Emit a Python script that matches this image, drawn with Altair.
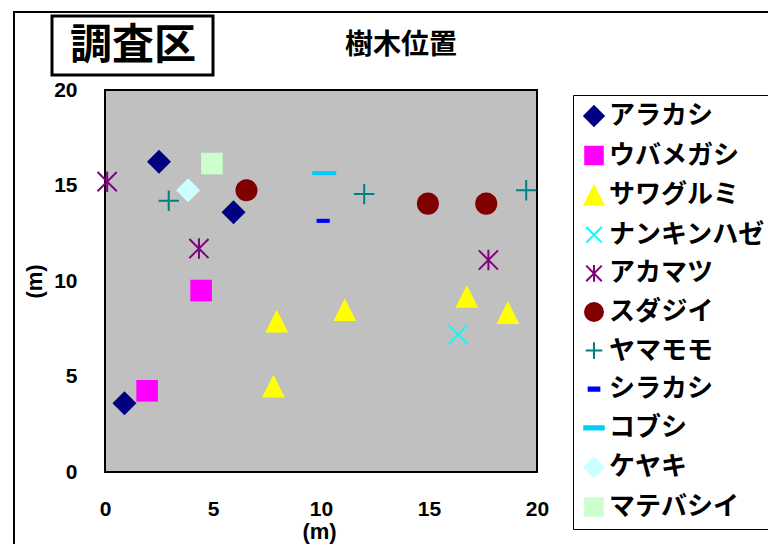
import altair as alt
import pandas as pd

# ---- data ----
species = ["アラカシ", "ウバメガシ", "サワグルミ", "ナンキンハゼ", "アカマツ", "スダジイ",
           "ヤマモモ", "シラカシ", "コブシ", "ケヤキ", "マテバシイ"]
colors = ["#000080", "#FF00FF", "#FFFF00", "#00FFFF", "#800080", "#800000",
          "#008080", "#0000FF", "#00CCFF", "#CCFFFF", "#CCFFCC"]

arakashi_x = [2.5, 5.95, 0.9]
arakashi_y = [16.25, 13.6, 3.6]
ubamegashi_x = [4.45, 1.95]
ubamegashi_y = [9.5, 4.25]
sawagurumi_x = [7.95, 7.8, 11.1, 16.75, 18.65]
sawagurumi_y = [7.9, 4.5, 8.5, 9.2, 8.35]
nankinhaze_x = [16.35]
nankinhaze_y = [7.2]
akamatsu_x = [0.1, 4.35, 17.75]
akamatsu_y = [15.2, 11.7, 11.1]
sudajii_x = [6.55, 14.95, 17.65]
sudajii_y = [14.75, 14.05, 14.05]
yamamomo_x = [2.95, 12.0, 19.5]
yamamomo_y = [14.2, 14.55, 14.75]
shirakashi_x = [10.1]
shirakashi_y = [13.15]
kobushi_x = [10.15]
kobushi_y = [15.65]
keyaki_x = [3.85]
keyaki_y = [14.75]
matebashii_x = [4.95]
matebashii_y = [16.15]

xs = [arakashi_x, ubamegashi_x, sawagurumi_x, nankinhaze_x, akamatsu_x, sudajii_x,
      yamamomo_x, shirakashi_x, kobushi_x, keyaki_x, matebashii_x]
ys = [arakashi_y, ubamegashi_y, sawagurumi_y, nankinhaze_y, akamatsu_y, sudajii_y,
      yamamomo_y, shirakashi_y, kobushi_y, keyaki_y, matebashii_y]

tick_values = [0, 5, 10, 15, 20]

# ---- styles ----
DIAMOND = "M0,-1L1,0L0,1L-1,0Z"
SQUARE = "M-0.9,-0.9L0.9,-0.9L0.9,0.9L-0.9,0.9Z"
TRIANGLE = "M0,-0.95L0.95,0.95L-0.95,0.95Z"
XMARK = "M-0.8,-0.8L0.8,0.8M0.8,-0.8L-0.8,0.8"
STAR = "M0,-0.85L0,0.85M-0.8,-0.8L0.8,0.8M0.8,-0.8L-0.8,0.8"
CIRCLE = "M0.92,0A0.92,0.92,0,1,1,-0.92,0A0.92,0.92,0,1,1,0.92,0Z"
PLUS = "M-0.85,0L0.85,0M0,-0.85L0,0.85"
SHORTDASH = "M-0.55,-0.17L0.55,-0.17L0.55,0.17L-0.55,0.17Z"
LONGDASH = "M-1,-0.17L1,-0.17L1,0.17L-1,0.17Z"
shapes = [DIAMOND, SQUARE, TRIANGLE, XMARK, STAR, CIRCLE, PLUS, SHORTDASH, LONGDASH, DIAMOND, SQUARE]
stroke_w = [0, 0, 0, 2, 2, 0, 2, 0, 0, 0, 0]

rows = []
for i, sp in enumerate(species):
    for xv, yv in zip(xs[i], ys[i]):
        rows.append({"species": sp, "x": xv, "y": yv, "sw": stroke_w[i]})
df = pd.DataFrame(rows)

FONT_CJK = "Noto Sans CJK JP"
FONT_NUM = "Liberation Sans, Noto Sans CJK JP"

legend = alt.Legend(
    title=None, orient="none", legendX=468, legendY=5,
    labelFont=FONT_CJK, labelFontSize=26, labelFontWeight="bold", labelColor="black",
    symbolSize=380, symbolStrokeWidth=2, rowPadding=12.6, padding=8,
    strokeColor="black", fillColor="white", labelOffset=2,
)

points = alt.Chart(df).mark_point(filled=True, opacity=1, size=576).encode(
    x=alt.X("x:Q", scale=alt.Scale(domain=[0, 20], nice=False),
            axis=alt.Axis(values=tick_values, title="(m)", labelPadding=26, labelFlush=False,
                          titleX=214, titleY=59, titleBaseline="middle")),
    y=alt.Y("y:Q", scale=alt.Scale(domain=[0, 20], nice=False),
            axis=alt.Axis(values=tick_values, title="(m)", labelPadding=28, labelFlush=False,
                          titleX=-71, titleY=191, titleAngle=270,
                          titleAlign="center", titleBaseline="middle")),
    fill=alt.Fill("species:N", scale=alt.Scale(domain=species, range=colors), legend=legend),
    stroke=alt.Stroke("species:N", scale=alt.Scale(domain=species, range=colors), legend=legend),
    shape=alt.Shape("species:N", scale=alt.Scale(domain=species, range=shapes), legend=legend),
    strokeWidth=alt.StrokeWidth("sw:Q", scale=None, legend=None),
)

one = alt.Data(values=[{"a": 1}])

frame = alt.Chart(one).mark_rect(fill="white", fillOpacity=0, stroke="black", strokeWidth=2).encode(
    x=alt.value(-91), x2=alt.value(700), y=alt.value(-78), y2=alt.value(480))

title_box = alt.Chart(one).mark_rect(fill="white", stroke="black", strokeWidth=3).encode(
    x=alt.value(-53), x2=alt.value(108), y=alt.value(-74), y2=alt.value(-15))

title_main = alt.Chart(one).mark_text(
    text="調査区", font=FONT_CJK, fontSize=42, fontWeight="bold", color="black",
    align="center", baseline="middle").encode(x=alt.value(28), y=alt.value(-44))

title_sub = alt.Chart(one).mark_text(
    text="樹木位置", font=FONT_CJK, fontSize=28, fontWeight="bold", color="black",
    align="center", baseline="middle").encode(x=alt.value(296), y=alt.value(-44))

chart = alt.layer(frame, title_box, title_main, title_sub, points).properties(
    width=432, height=382,
    autosize=alt.AutoSizeParams(type="none"),
    padding={"left": 97, "top": 82, "right": 231, "bottom": 72},
    background="white",
).configure_view(
    fill="#C0C0C0", stroke="black", strokeWidth=2
).configure_axis(
    grid=False, ticks=False, domain=False,
    labelFont=FONT_NUM, labelFontSize=21, labelFontWeight="bold", labelColor="black",
    titleFont=FONT_NUM, titleFontSize=22, titleFontWeight="bold", titleColor="black",
)

chart.save("out.html", embed_options={"renderer": "svg", "actions": False})
